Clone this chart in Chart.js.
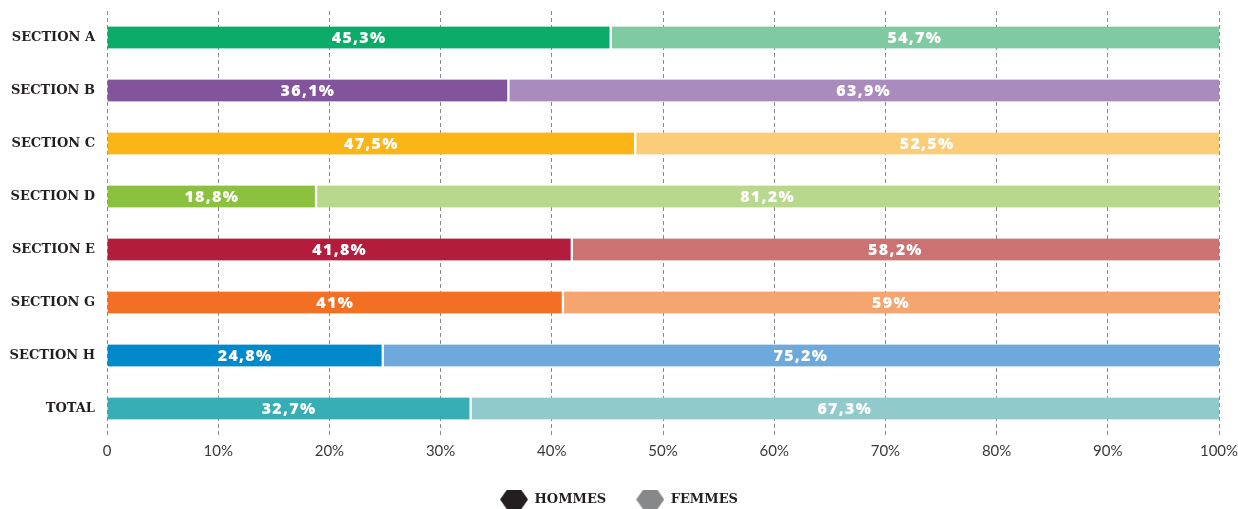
<!DOCTYPE html>
<html>
<head>
<meta charset="utf-8">
<script src="https://cdn.jsdelivr.net/npm/chart.js@4/dist/chart.umd.min.js"></script>
<style>
  html, body { margin: 0; padding: 0; background: #fff; }
  #wrap { width: 1238px; height: 509px; position: relative; }
</style>
</head>
<body>
<div id="wrap"><canvas id="chart"></canvas></div>
<script>
const categories = ['SECTION A', 'SECTION B', 'SECTION C', 'SECTION D', 'SECTION E', 'SECTION G', 'SECTION H', 'TOTAL'];
const hommes = [45.3, 36.1, 47.5, 18.8, 41.8, 41, 24.8, 32.7];
const femmes = [54.7, 63.9, 52.5, 81.2, 58.2, 59, 75.2, 67.3];
const hommesColors = ['#0bab69', '#82549c', '#fbb516', '#8cc140', '#b31c3b', '#f36f24', '#0089cb', '#37aeb4'];
const femmesColors = ['#7fcaa0', '#a98bbd', '#fccd78', '#b8d88d', '#cc7272', '#f5a56f', '#6ea9db', '#92cacc'];
const tickValues = [0, 10, 20, 30, 40, 50, 60, 70, 80, 90, 100];

function hexagon(color) {
    const c = document.createElement('canvas');
    c.width = 28; c.height = 20;
    const g = c.getContext('2d');
    g.fillStyle = color;
    g.beginPath();
    g.moveTo(0, 10); g.lineTo(7, 0); g.lineTo(21, 0);
    g.lineTo(28, 10); g.lineTo(21, 20); g.lineTo(7, 20);
    g.closePath();
    g.fill();
    return c;
}

function fmt(v) {
    return String(v).replace('.', ',') + '%';
}

const barLabels = {
    id: 'barLabels',
    afterDatasetsDraw(chart) {
        const ctx = chart.ctx;
        ctx.save();
        ctx.fillStyle = '#fff';
        ctx.font = '800 16px "Open Sans"';
        ctx.letterSpacing = '1.3px';
        ctx.textAlign = 'center';
        ctx.textBaseline = 'middle';
        chart.data.datasets.forEach((ds, i) => {
            chart.getDatasetMeta(i).data.forEach((bar, j) => {
                ctx.fillText(fmt(ds.data[j]), (bar.x + bar.base) / 2, bar.y + 1);
            });
        });
        ctx.restore();
    }
};

// legend padding sets both item gap and vertical space, so pin its height
const legendHeight = {
    id: 'legendHeight',
    afterInit(chart) {
        const lg = chart.legend;
        const fit = lg.fit.bind(lg);
        lg.fit = function () { fit(); this.height = 46; };
    }
};

new Chart(document.getElementById('chart'), {
    type: 'bar',
    data: {
        labels: categories,
        datasets: [{
            label: 'HOMMES',
            data: hommes,
            backgroundColor: hommesColors,
            borderColor: '#fff',
            borderWidth: { right: 1.5, left: 0, top: 0, bottom: 0 },
            borderSkipped: false,
            barThickness: 22,
            pointStyle: hexagon('#231f20')
        }, {
            label: 'FEMMES',
            data: femmes,
            backgroundColor: femmesColors,
            borderColor: '#fff',
            borderWidth: { left: 1.5, right: 0, top: 0, bottom: 0 },
            borderSkipped: false,
            barThickness: 22,
            pointStyle: hexagon('#87888a')
        }]
    },
    options: {
        indexAxis: 'y',
        responsive: true,
        maintainAspectRatio: false,
        animation: false,
        layout: { padding: { top: 11, right: 0, left: 0, bottom: 0 } },
        scales: {
            x: {
                stacked: true,
                min: 0,
                max: 100,
                afterBuildTicks(axis) { axis.ticks = tickValues.map(v => ({ value: v })); },
                afterFit(axis) {
                    axis.paddingLeft = 0;
                    axis.paddingRight = 19;
                    axis.height = 28;
                },
                grid: { color: '#8a8a8a', lineWidth: 1, drawTicks: false },
                border: { display: false, dash: [4, 3] },
                ticks: {
                    padding: 7,
                    color: '#3a3a3a',
                    font: { family: 'Lato', size: 15 },
                    callback: v => v === 0 ? '0' : v + '%'
                }
            },
            y: {
                stacked: true,
                grid: { display: false },
                border: { display: false },
                afterFit(axis) {
                    axis.width = 107;
                    axis.paddingTop = 0;
                    axis.paddingBottom = 0;
                },
                ticks: {
                    padding: 4,
                    color: '#231f20',
                    font: { family: 'DejaVu Serif', size: 13, weight: 'bold' }
                }
            }
        },
        plugins: {
            legend: {
                position: 'bottom',
                labels: {
                    usePointStyle: true,
                    pointStyleWidth: 28,
                    boxHeight: 20,
                    padding: 30,
                    color: '#231f20',
                    font: { family: 'DejaVu Serif', size: 13, weight: 'bold' }
                }
            },
            tooltip: { enabled: false }
        }
    },
    plugins: [barLabels, legendHeight]
});
</script>
</body>
</html>
